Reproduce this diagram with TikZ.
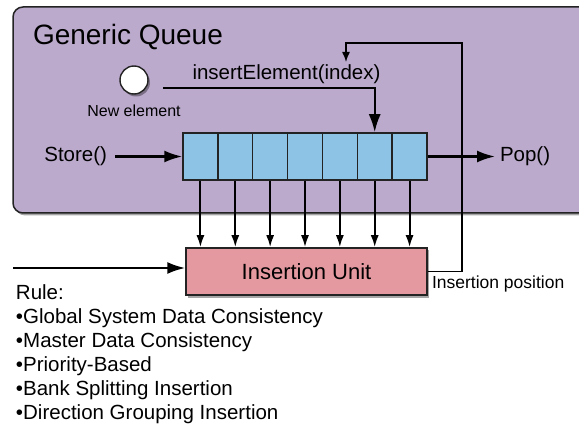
\documentclass[tikz,border=0pt]{standalone}
\usepackage{fontspec}
\setmainfont{Liberation Sans}
\usetikzlibrary{arrows.meta, positioning, shadows}

\definecolor{queuebg}{RGB}{188,170,205}
\definecolor{cellblue}{RGB}{141,195,229}
\definecolor{unitpink}{RGB}{228,153,160}
\definecolor{edge}{RGB}{35,35,35}

\tikzset{
	shade/.style = {drop shadow = {shadow xshift = 2pt, shadow yshift = -2.5pt, opacity = 0.35, fill = black}},
	cell/.style = {draw = edge, line width = 1.5pt, fill = cellblue, minimum width = 34.857pt,
		minimum height = 47pt, inner sep = 0pt},
	bigtip/.style = {line width = 2.2pt, -{Latex[length = 18pt, width = 12pt]}},
	fs/.style = {font = \fontsize{#1}{#1}\selectfont}
}

\begin{document}
\begin{tikzpicture}[> = {Latex[length = 12pt, width = 8pt]}, x = 1pt, y = -1pt, line width = 2pt]
	
	\useasboundingbox (0, 0) rectangle (579, 425);
	
	% The queue region
	
	\draw [edge, fill = queuebg, rounded corners = 10pt, line width = 1.5pt, shade] (13, 7) rectangle (620, 213);
	\node [fs = 28, anchor = base west, inner sep = 0pt] (title) at (32, 45) {Generic Queue};
	
	% New element
	
	\node [circle, draw = edge, fill = white, line width = 1.4pt, minimum size = 28pt, inner sep = 0pt, shade] (newel) at (134, 80) {};
	\node [fs = 16, anchor = base] (newlbl) at (134, 117) {New element};
	
	% Cells of the queue
	
	\foreach \i in {1, ..., 7}
		\node [cell] (c\i) at ({183 + 34.857*(\i - 0.5)}, 156.5) {};
	
	% Insertion unit
	
	\node [draw = edge, line width = 1.5pt, fill = unitpink, minimum width = 241pt, minimum height = 47pt,
		inner sep = 0pt, fs = 22, shade] (unit) at (306.5, 271.5) {Insertion Unit};
	
	\foreach \i in {1, ..., 7}
		\draw [->] (c\i.south) -- (c\i.south |- unit.north);
	
	% Store and pop
	
	\node [fs = 20.5, anchor = east, inner sep = 7pt] (store) at (115, 156.5) {Store()};
	\node [fs = 20.5, anchor = west, inner sep = 4pt] (pop) at (495, 156.5) {Pop()};
	\draw [bigtip] (store) -- (c1);
	\draw [bigtip] (c7) -- (pop);
	
	% insertElement(index)
	
	\coordinate (ins) at (163, 88);
	\node [fs = 20.5, anchor = base] (inslbl) at (286.5, 80) {insertElement(index)};
	\draw [bigtip] (ins) -| (c6.north);
	
	% Feedback of the insertion position
	
	\coordinate (fbtop) at (462, 43);
	\coordinate (fbend) at (346, 62);
	\draw [line width = 1.4pt, -{Latex[length = 10pt, width = 8pt]}] (unit.east) -| (fbtop) -| (fbend);
	\node [fs = 17.5, anchor = base west, inner sep = 0pt] (inspos) at (431, 288) {Insertion position};
	
	% Rules coming in
	
	\coordinate (rin) at (13, 268);
	\draw [bigtip] (rin) -- (rin -| unit.west);
	
	\node [anchor = north west, align = left, inner sep = 0pt,
		font = \fontsize{20.5}{24}\selectfont] (rule) at (15, 283.5)
		{Rule:\\•Global System Data Consistency\\•Master Data Consistency\\•Priority-Based\\
		 •Bank Splitting Insertion\\•Direction Grouping Insertion};

\end{tikzpicture}
\end{document}
